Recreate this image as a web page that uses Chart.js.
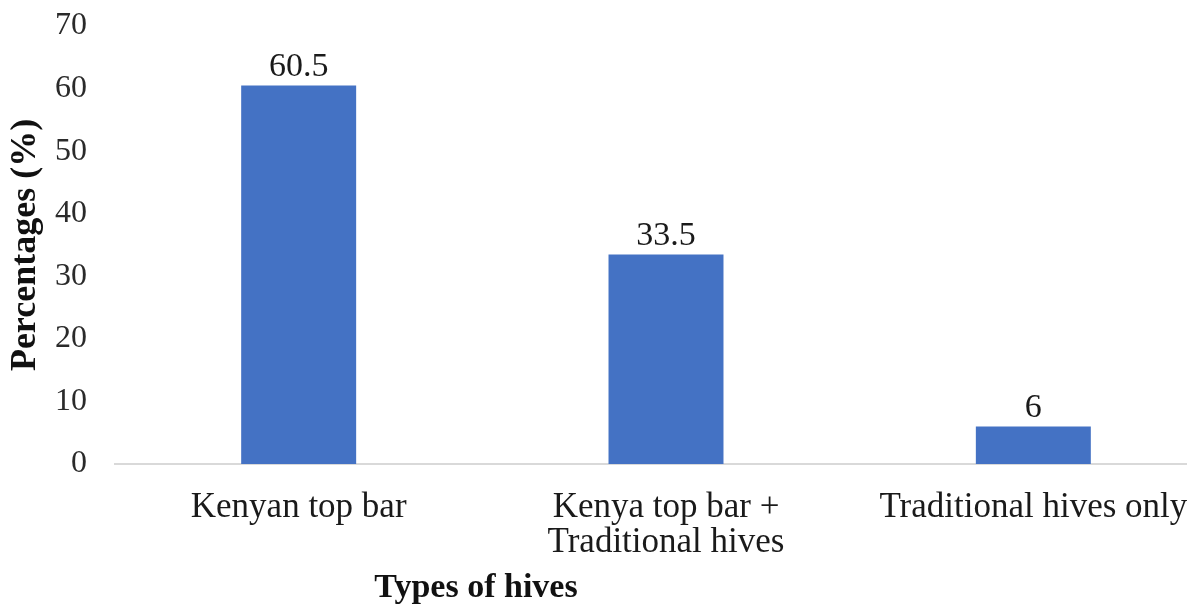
<!DOCTYPE html>
<html>
<head>
<meta charset="utf-8">
<script src="https://cdn.jsdelivr.net/npm/chart.js@4"></script>
<style>
  body { margin: 0; overflow: hidden; background: #fff; }
</style>
</head>
<body>
<canvas id="hiveChart" width="1220" height="605"></canvas>
<script>
// data
var hiveTypes = [['Kenyan top bar'], ['Kenya top bar +', 'Traditional hives'], ['Traditional hives only']];
var percentages = [60.5, 33.5, 6];
var valueLabels = ['60.5', '33.5', '6'];

var serif = "'Liberation Serif', 'Times New Roman', serif";

// writes the value on top of each bar
var barValues = {
  id: 'barValues',
  afterDatasetsDraw: function(chart) {
    var ctx = chart.ctx;
    var bars = chart.getDatasetMeta(0).data;
    ctx.save();
    ctx.font = '34px ' + serif;
    ctx.fillStyle = '#1a1a1a';
    ctx.textAlign = 'center';
    ctx.textBaseline = 'alphabetic';
    bars.forEach(function(bar, i) {
      ctx.fillText(valueLabels[i], bar.x, bar.y - 9);
    });
    ctx.restore();
  }
};

// x title sits left of centre in the original
var xTitle = {
  id: 'xTitle',
  afterDraw: function(chart) {
    var ctx = chart.ctx;
    ctx.save();
    ctx.font = 'bold 34px ' + serif;
    ctx.fillStyle = '#111';
    ctx.textAlign = 'center';
    ctx.textBaseline = 'middle';
    ctx.fillText('Types of hives', 476, 588);
    ctx.restore();
  }
};

var ctx = document.getElementById('hiveChart').getContext('2d');
new Chart(ctx, {
  type: 'bar',
  data: {
    labels: hiveTypes,
    datasets: [{
      data: percentages,
      backgroundColor: '#4472C4',
      categoryPercentage: 1,
      barPercentage: 0.313
    }]
  },
  options: {
    responsive: false,
    animation: false,
    layout: { padding: { top: 26, right: 3, bottom: 51, left: 0 } },
    plugins: {
      legend: { display: false },
      tooltip: { enabled: false }
    },
    scales: {
      x: {
        grid: { display: false, drawTicks: false },
        border: { display: true, color: '#d9d9d9', width: 2 },
        ticks: {
          color: '#1a1a1a',
          padding: 26,
          maxRotation: 0,
          autoSkip: false,
          font: { family: serif, size: 35, lineHeight: 1.0 }
        },
        afterFit: function(scale) { scale.height = 90; }
      },
      y: {
        min: 0,
        max: 70,
        grid: { display: false, drawTicks: false },
        border: { display: false },
        ticks: {
          stepSize: 10,
          color: '#2a2a2a',
          padding: 28,
          font: { family: serif, size: 32 }
        },
        title: {
          display: true,
          text: 'Percentages (%)',
          color: '#111',
          padding: { top: 4, bottom: 0 },
          font: { family: serif, size: 36, weight: 'bold' }
        },
        afterFit: function(scale) {
          scale.width = 115;
          scale.paddingTop = 0;
          scale.paddingBottom = 0;
        }
      }
    }
  },
  plugins: [barValues, xTitle]
});
</script>
</body>
</html>
